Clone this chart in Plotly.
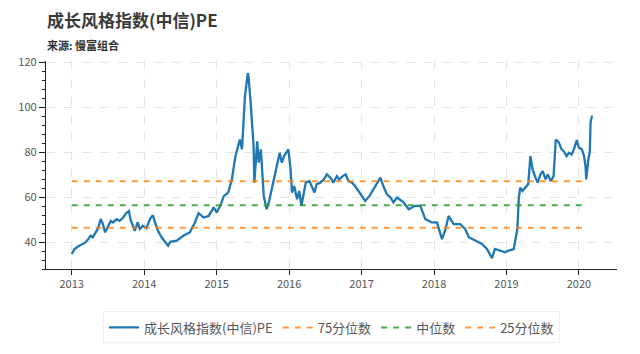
import plotly.graph_objects as go

# Decimal-year positions and PE values
years = [2013.00, 2013.04, 2013.09, 2013.13, 2013.18, 2013.23, 2013.26, 2013.29, 2013.33, 2013.36,
         2013.40, 2013.43, 2013.46, 2013.50, 2013.54, 2013.57, 2013.62, 2013.66, 2013.71, 2013.75,
         2013.79, 2013.81, 2013.85, 2013.87, 2013.91, 2013.94, 2013.98, 2014.03, 2014.08, 2014.12,
         2014.15, 2014.19, 2014.24, 2014.28, 2014.33, 2014.36, 2014.45, 2014.54, 2014.63, 2014.70,
         2014.75, 2014.82, 2014.89, 2014.96, 2015.00, 2015.05, 2015.10, 2015.16, 2015.21, 2015.26,
         2015.30, 2015.32, 2015.35, 2015.39, 2015.43, 2015.44, 2015.47, 2015.51, 2015.52, 2015.56,
         2015.58, 2015.61, 2015.65, 2015.69, 2015.72, 2015.76, 2015.81, 2015.87, 2015.90, 2015.93,
         2015.99, 2016.02, 2016.04, 2016.07, 2016.11, 2016.14, 2016.17, 2016.20, 2016.23, 2016.28,
         2016.31, 2016.35, 2016.38, 2016.43, 2016.48, 2016.52, 2016.57, 2016.61, 2016.66, 2016.69,
         2016.74, 2016.78, 2016.82, 2016.87, 2016.91, 2016.96, 2017.01, 2017.05, 2017.11, 2017.15,
         2017.21, 2017.26, 2017.30, 2017.35, 2017.40, 2017.44, 2017.49, 2017.58, 2017.65, 2017.74,
         2017.81, 2017.88, 2017.97, 2018.04, 2018.11, 2018.16, 2018.20, 2018.27, 2018.36, 2018.43,
         2018.48, 2018.57, 2018.66, 2018.73, 2018.80, 2018.84, 2018.91, 2018.98, 2019.03, 2019.10,
         2019.15, 2019.17, 2019.19, 2019.22, 2019.26, 2019.30, 2019.33, 2019.36, 2019.40, 2019.43,
         2019.47, 2019.50, 2019.54, 2019.57, 2019.61, 2019.65, 2019.68, 2019.72, 2019.76, 2019.79,
         2019.83, 2019.86, 2019.90, 2019.93, 2019.97, 2020.00, 2020.04, 2020.07, 2020.09, 2020.10,
         2020.13, 2020.15, 2020.16, 2020.18]
pe = [34.7, 36.9, 38.1, 38.7, 39.6, 41.3, 42.8, 42.1, 44.3, 45.8,
      50.2, 48.0, 44.3, 47.2, 49.4, 48.7, 50.2, 49.4, 50.9, 52.8,
      53.8, 50.2, 46.5, 45.0, 48.7, 45.8, 47.2, 46.1, 50.2, 51.9,
      48.7, 45.0, 42.1, 40.6, 38.4, 40.1, 40.6, 42.8, 44.3, 48.7,
      52.8, 50.9, 51.6, 55.4, 53.1, 56.1, 60.5, 62.0, 67.9, 78.2,
      82.6, 85.6, 81.2, 104.7, 115.1, 113.6, 101.8, 82.6, 66.4, 84.8,
      75.3, 81.2, 60.5, 54.6, 57.6, 63.5, 70.8, 79.7, 75.3, 78.2,
      81.2, 72.3, 62.0, 64.9, 59.0, 62.7, 56.1, 60.5, 66.4, 67.1,
      64.9, 62.0, 65.7, 66.4, 67.9, 70.1, 68.6, 66.4, 69.3, 67.9,
      69.3, 70.1, 67.1, 66.4, 64.9, 62.7, 60.5, 58.3, 60.5, 62.7,
      66.4, 68.6, 64.9, 61.2, 59.8, 57.6, 59.8, 57.6, 54.6, 56.1,
      56.1, 50.2, 48.7, 48.7, 41.3, 45.8, 51.6, 48.0, 48.0, 45.8,
      42.1, 40.6, 39.1, 36.9, 32.8, 36.9, 36.2, 35.4, 36.2, 36.9,
      45.8, 59.8, 64.2, 62.7, 64.2, 65.7, 78.2, 72.3, 68.6, 66.4,
      70.1, 71.5, 67.9, 70.1, 67.1, 69.3, 85.6, 84.4, 81.2, 80.4,
      78.2, 79.7, 78.9, 81.2, 85.3, 81.9, 81.2, 78.2, 73.8, 67.9,
      76.7, 80.4, 93.0, 96.2]

q_span = [2013.0, 2020.12]
q75 = 67.0
q50 = 56.4
q25 = 46.3

tick_years = [2013, 2014, 2015, 2016, 2017, 2018, 2019, 2020]
tick_labels = ["2013", "2014", "2015", "2016", "2017", "2018", "2019", "2020"]

title_text = "成长风格指数(中信)PE"
source_text = "来源: 慢富组合"

font_family = "Noto Sans CJK SC, Noto Sans, Arial, sans-serif"

fig = go.Figure()
fig.add_trace(go.Scatter(x=years, y=pe, mode="lines", name="成长风格指数(中信)PE",
                         line=dict(color="#1f77b4", width=2.3)))
fig.add_trace(go.Scatter(x=q_span, y=[q75, q75], mode="lines", name="75分位数",
                         line=dict(color="rgba(255,127,14,0.8)", width=2, dash="6px,6px")))
fig.add_trace(go.Scatter(x=q_span, y=[q50, q50], mode="lines", name="中位数",
                         line=dict(color="rgba(44,160,44,0.85)", width=2, dash="6px,6px")))
fig.add_trace(go.Scatter(x=q_span, y=[q25, q25], mode="lines", name="25分位数",
                         line=dict(color="rgba(255,127,14,0.8)", width=2, dash="6px,6px")))

fig.update_layout(
    width=640, height=354,
    margin=dict(l=46, r=23, t=61, b=84),
    paper_bgcolor="white", plot_bgcolor="white",
    font=dict(family=font_family, color="#555", size=11),
    showlegend=True,
    legend=dict(orientation="h", x=0.5, xanchor="center", y=-0.275, yanchor="middle",
                font=dict(size=13, color="#555"), bordercolor="#eeeeee", borderwidth=1,
                bgcolor="white", itemwidth=30),
    annotations=[
        dict(text="<b>" + title_text + "</b>", xref="paper", yref="paper", x=-0.002, y=1.0,
             xanchor="left", yanchor="bottom", yshift=27, showarrow=False,
             font=dict(size=17, color="#3a3a3a", family=font_family)),
        dict(text="<b>" + source_text + "</b>", xref="paper", yref="paper", x=-0.002, y=1.0,
             xanchor="left", yanchor="bottom", yshift=6, showarrow=False,
             font=dict(size=11, color="#333", family=font_family)),
    ],
)

fig.update_xaxes(range=[2012.645, 2020.525], tickvals=tick_years, ticktext=tick_labels,
                 showline=True, linecolor="#222", linewidth=1.2,
                 ticks="outside", ticklen=5, tickcolor="#222",
                 showgrid=True, gridcolor="#e4e4e4", griddash="dash", zeroline=False,
                 tickfont=dict(size=11, color="#555"))
fig.update_yaxes(range=[28, 120.5], tickvals=[40, 60, 80, 100, 120],
                 showline=True, linecolor="#222", linewidth=1.2,
                 ticks="outside", ticklen=6, tickcolor="#222",
                 minor=dict(dtick=4, tick0=0, ticks="outside", ticklen=3, tickcolor="#222", showgrid=False),
                 showgrid=True, gridcolor="#e4e4e4", griddash="dash", zeroline=False,
                 tickfont=dict(size=11, color="#555"))

fig.write_html("out.html")
